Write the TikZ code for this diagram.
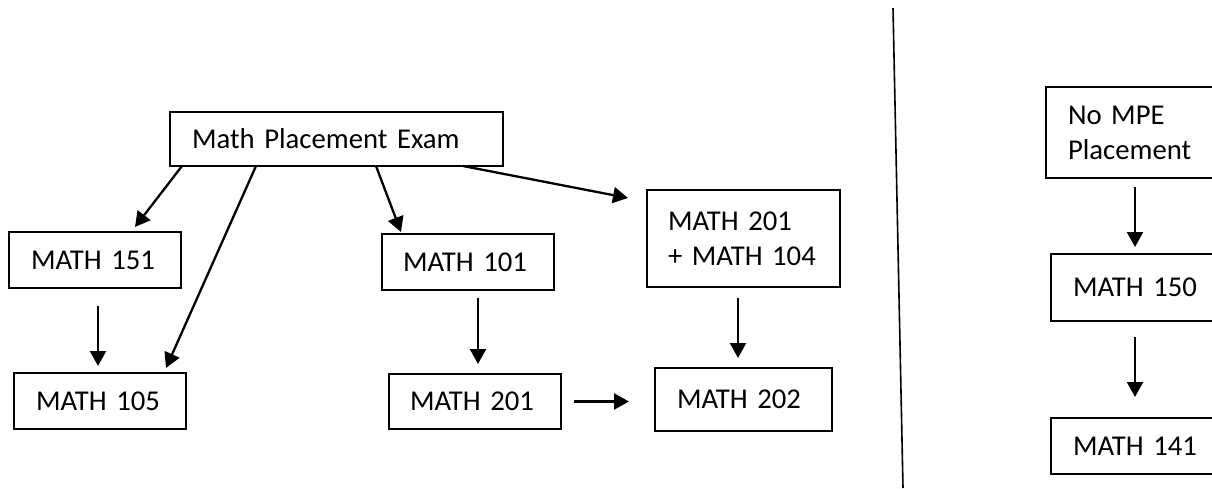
\documentclass[tikz,border=0pt]{standalone}
\usepackage{fontspec}
\setmainfont{Carlito}
\usetikzlibrary{arrows.meta}
\tikzset{
  box/.style={draw=black, line width=2.3pt, anchor=north west, align=left, outer sep=0pt,
    font=\fontsize{28.7}{35}\selectfont, inner ysep=0pt},
  arr/.style={line width=2.3pt, -{Triangle[length=15pt,width=16pt]}},
  divider/.style={line width=1.6pt}
}
\begin{document}
\begin{tikzpicture}[x=1pt,y=-1pt]
\clip (0,0) rectangle (1212,489);
\fill[white] (0,0) rectangle (1212,489);
% nodes
\node[box, inner xsep=22pt, text width=289pt, minimum height=54pt] (mpe) at (170,112) {Math Placement Exam};
\node[box, inner xsep=22pt, text width=128pt, minimum height=56pt] (m151) at (9,232) {MATH 151};
\node[box, inner xsep=22pt, text width=128pt, minimum height=56pt] (m105) at (14,373) {MATH 105};
\node[box, inner xsep=21pt, text width=130pt, minimum height=56pt] (m101) at (382,234) {MATH 101};
\node[box, inner xsep=21pt, text width=130pt, minimum height=55pt] (m201) at (389,374) {MATH 201};
\node[box, inner xsep=21pt, text width=151pt, minimum height=97pt] (m201b) at (647,190) {MATH 201\\+ MATH 104};
\node[box, inner xsep=22pt, text width=133pt, minimum height=63pt] (m202) at (655,368) {MATH 202};
\node[box, inner xsep=22pt, text width=156pt, minimum height=91pt] (nompe) at (1046,87) {No MPE\\Placement};
\node[box, inner xsep=22pt, text width=156pt, minimum height=67pt] (m150) at (1051,254) {MATH 150};
\node[box, inner xsep=22pt, text width=156pt, minimum height=56pt] (m141) at (1051,418) {MATH 141};
% divider
\coordinate (dtop) at (893,8);
\coordinate (dbot) at (903,488);
\draw[divider] (dtop) -- (dbot);
% arrows
\draw[arr] ([xshift=12pt]mpe.south west) -- ([xshift=126pt,yshift=5pt]m151.north west);
\draw[arr] ([xshift=86pt]mpe.south west) -- ([xshift=152pt,yshift=5pt]m105.north west);
\draw[arr] ([xshift=206pt]mpe.south west) -- ([xshift=19pt,yshift=2pt]m101.north west);
\draw[arr] ([xshift=293pt]mpe.south west) -- ([xshift=-19pt,yshift=-8pt]m201b.north west);
\draw[arr] ([xshift=89pt,yshift=-18pt]m151.south west) -- ([xshift=84pt,yshift=7pt]m105.north west);
\draw[arr] ([xshift=96pt,yshift=-8pt]m101.south west) -- ([xshift=89pt,yshift=10pt]m201.north west);
\draw[arr] ([xshift=91pt,yshift=-11pt]m201b.south west) -- ([xshift=83pt,yshift=10pt]m202.north west);
\draw[arr, shorten <=13pt, shorten >=26pt] (m201.east) -- (m201.east -| m202.west);
\draw[arr] ([xshift=89pt,yshift=-9pt]nompe.south west) -- ([xshift=84pt,yshift=7pt]m150.north west);
\draw[arr] ([xshift=84pt,yshift=-16pt]m150.south west) -- ([xshift=84pt,yshift=21pt]m141.north west);
\end{tikzpicture}
\end{document}
